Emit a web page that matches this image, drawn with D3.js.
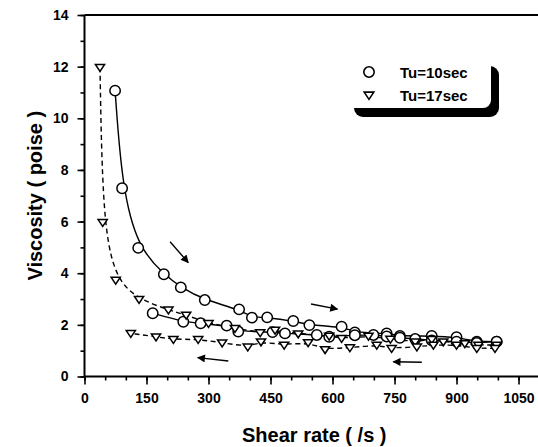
<!DOCTYPE html>
<html>
<head>
<meta charset="utf-8">
<script src="https://cdn.jsdelivr.net/npm/d3@7"></script>
<style>
  html, body { margin: 0; padding: 0; background: #fff; }
  svg { display: block; }
  text { font-family: "Liberation Sans", Arial, sans-serif; font-weight: bold; fill: #000; }
</style>
</head>
<body>
<svg id="chart" width="538" height="447"></svg>
<script>
// ---- Data ----
const seriesNames = ["Tu=10sec", "Tu=17sec"];

// Tu=10sec, increasing shear rate (circles, solid)
const circUpX = [74, 91, 130, 192, 233, 291, 374, 405, 442, 505, 544, 622, 654, 731, 763, 840, 900, 949, 997];
const circUpY = [11.07, 7.29, 4.98, 3.96, 3.45, 2.96, 2.60, 2.28, 2.29, 2.15, 1.99, 1.93, 1.71, 1.67, 1.57, 1.57, 1.52, 1.35, 1.35];
// Tu=10sec, decreasing shear rate (circles, solid)
const circDnX = [997, 949, 900, 840, 800, 763, 731, 699, 654, 592, 562, 485, 455, 372, 344, 281, 239, 165];
const circDnY = [1.35, 1.30, 1.35, 1.40, 1.45, 1.50, 1.55, 1.61, 1.60, 1.54, 1.61, 1.67, 1.72, 1.74, 1.97, 2.06, 2.12, 2.45];
// Tu=17sec, increasing shear rate (triangles, dashed)
const triUpX = [37.5, 44, 75.5, 132, 203, 246, 300, 364, 425, 461, 517, 592, 622, 687, 740, 800, 840, 868, 920, 953, 997];
const triUpY = [11.98, 5.97, 3.74, 2.99, 2.58, 2.38, 2.06, 1.87, 1.70, 1.80, 1.66, 1.57, 1.48, 1.57, 1.45, 1.35, 1.44, 1.35, 1.28, 1.22, 1.22];
// Tu=17sec, decreasing shear rate (triangles, dashed)
const triDnX = [993, 949, 900, 844, 804, 743, 707, 642, 582, 541, 483, 427, 395, 333, 275, 215, 173, 112];
const triDnY = [1.09, 1.09, 1.22, 1.22, 1.15, 1.09, 1.22, 1.12, 1.05, 1.32, 1.22, 1.35, 1.15, 1.31, 1.44, 1.44, 1.54, 1.67];

// Direction arrows [x1, y1, x2, y2] in data units
const arrows = [
  [207, 5.22, 251, 4.41],
  [548, 2.81, 612, 2.61],
  [348, 0.60, 274, 0.73],
  [816, 0.55, 747, 0.57]
];

const xTicks = [0, 150, 300, 450, 600, 750, 900, 1050];
const yTicks = [0, 2, 4, 6, 8, 10, 12, 14];
const xLabel = "Shear rate ( /s )";
const yLabel = "Viscosity ( poise )";

// ---- Layout ----
const svg = d3.select("#chart");
const x0 = 84.5, x1 = 539.2, yBot = 376.5, yTop = 15;
const x = d3.scaleLinear().domain([0, 1100]).range([x0, x1]);
const y = d3.scaleLinear().domain([0, 14]).range([yBot, yTop]);

// defs: arrowhead
svg.append("defs").append("marker")
  .attr("id", "ah").attr("viewBox", "0 0 10 10")
  .attr("refX", 9).attr("refY", 5)
  .attr("markerWidth", 11).attr("markerHeight", 8)
  .attr("markerUnits", "userSpaceOnUse")
  .attr("orient", "auto")
  .append("path").attr("d", "M0,0 L10,5 L0,10 Z").attr("fill", "#000");

// Axes
const xMinor = d3.range(0, 1101, 50);
const yMinor = d3.range(0, 14.01, 1);

const gx = svg.append("g").attr("transform", `translate(0,${yBot})`);
gx.call(d3.axisBottom(x).tickValues(xMinor).tickSize(4).tickFormat(""));
gx.call(g => g.selectAll(".domain").remove());
const gx2 = svg.append("g").attr("transform", `translate(0,${yBot})`);
gx2.call(d3.axisBottom(x).tickValues(xTicks).tickSize(8).tickPadding(9).tickFormat(d3.format("d")));
gx2.selectAll("text").attr("font-size", 14).style("font-family", "'Liberation Sans', Arial, sans-serif").style("font-weight", "bold");
gx2.select(".domain").remove();

const gy = svg.append("g").attr("transform", `translate(${x0},0)`);
gy.call(d3.axisLeft(y).tickValues(yMinor).tickSize(4).tickFormat(""));
gy.call(g => g.selectAll(".domain").remove());
const gy2 = svg.append("g").attr("transform", `translate(${x0},0)`);
gy2.call(d3.axisLeft(y).tickValues(yTicks).tickSize(7).tickPadding(9).tickFormat(d3.format("d")));
gy2.selectAll("text").attr("font-size", 14).style("font-family", "'Liberation Sans', Arial, sans-serif").style("font-weight", "bold");
gy2.select(".domain").remove();

svg.selectAll(".tick line").attr("stroke", "#000").attr("stroke-width", 1.6);

// frame lines
svg.append("line").attr("x1", x0).attr("x2", 538).attr("y1", yBot).attr("y2", yBot).attr("stroke", "#000").attr("stroke-width", 2);
svg.append("line").attr("x1", x0).attr("x2", x0).attr("y1", yTop).attr("y2", yBot).attr("stroke", "#000").attr("stroke-width", 2);
svg.append("line").attr("x1", x0).attr("x2", 538).attr("y1", yTop).attr("y2", yTop).attr("stroke", "#000").attr("stroke-width", 2);

// Axis titles
svg.append("text").attr("x", (x0 + 544) / 2).attr("y", 442).attr("text-anchor", "middle")
  .attr("font-size", 20).text(xLabel);
svg.append("text").attr("transform", `translate(42,${(yTop + yBot) / 2}) rotate(-90)`)
  .attr("text-anchor", "middle").attr("font-size", 20).text(yLabel);

// Lines
const zip = (xs, ys) => xs.map((v, i) => [v, ys[i]]);
const line = d3.line().x(d => x(d[0])).y(d => y(d[1])).curve(d3.curveBasis);

const sets = [
  { pts: zip(circUpX, circUpY), dash: null, sym: "circle" },
  { pts: zip(circDnX, circDnY), dash: null, sym: "circle" },
  { pts: zip(triUpX, triUpY), dash: "5,3.5", sym: "tri" },
  { pts: zip(triDnX, triDnY), dash: "5,3.5", sym: "tri" }
];

sets.forEach(s => {
  svg.append("path").datum(s.pts).attr("d", line)
    .attr("fill", "none").attr("stroke", "#000").attr("stroke-width", 1.4)
    .attr("stroke-dasharray", s.dash);
});

const triPath = (cx, cy, r) => `M${cx - r},${cy - r * 0.6} L${cx + r},${cy - r * 0.6} L${cx},${cy + r * 0.9} Z`;

sets.forEach(s => {
  const g = svg.append("g");
  if (s.sym === "circle") {
    g.selectAll("circle").data(s.pts).join("circle")
      .attr("cx", d => x(d[0])).attr("cy", d => y(d[1])).attr("r", 5.2)
      .attr("fill", "#fff").attr("stroke", "#000").attr("stroke-width", 1.5);
  } else {
    g.selectAll("path").data(s.pts).join("path")
      .attr("d", d => triPath(x(d[0]), y(d[1]), 4.6))
      .attr("fill", "#fff").attr("stroke", "#000").attr("stroke-width", 1.5);
  }
});

// Arrows
svg.append("g").selectAll("line").data(arrows).join("line")
  .attr("x1", d => x(d[0])).attr("y1", d => y(d[1]))
  .attr("x2", d => x(d[2])).attr("y2", d => y(d[3]))
  .attr("stroke", "#000").attr("stroke-width", 1.4)
  .attr("marker-end", "url(#ah)");

// Legend
const lg = svg.append("g");
lg.append("rect").attr("x", 354).attr("y", 66).attr("width", 145).attr("height", 51).attr("rx", 9).attr("fill", "#000");
lg.append("rect").attr("x", 346).attr("y", 58).attr("width", 145).attr("height", 50).attr("rx", 8).attr("fill", "#fff");
lg.append("circle").attr("cx", 369).attr("cy", 72).attr("r", 5.2).attr("fill", "#fff").attr("stroke", "#000").attr("stroke-width", 1.6);
lg.append("path").attr("d", triPath(369, 95, 4.8)).attr("fill", "#fff").attr("stroke", "#000").attr("stroke-width", 1.6);
lg.append("text").attr("x", 400).attr("y", 77.5).attr("font-size", 15).text(seriesNames[0]);
lg.append("text").attr("x", 400).attr("y", 100.5).attr("font-size", 15).text(seriesNames[1]);
</script>
</body>
</html>
